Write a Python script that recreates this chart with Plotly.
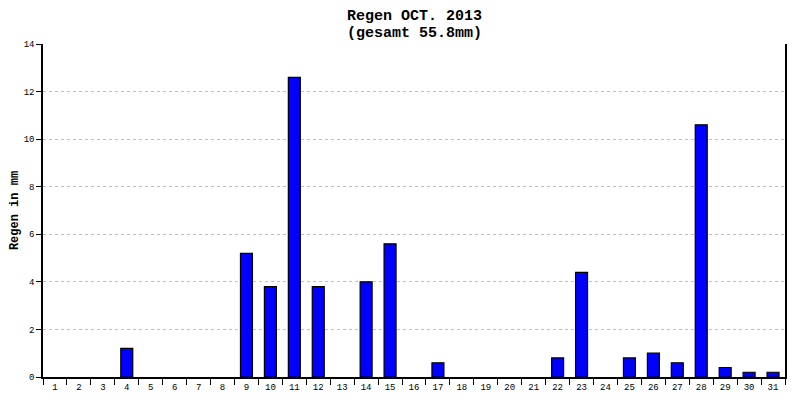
import plotly.graph_objects as go

# Regen pro Tag, Oktober 2013 (mm)
tage = [str(d) for d in range(1, 32)]
regen = [0, 0, 0, 1.2, 0, 0, 0, 0, 5.2, 3.8, 12.6, 3.8, 0, 4.0, 5.6, 0,
         0.6, 0, 0, 0, 0, 0.8, 4.4, 0, 0.8, 1.0, 0.6, 10.6, 0.4, 0.2, 0.2]
y_ticks = [0, 2, 4, 6, 8, 10, 12, 14]
titel = ["Regen OCT. 2013", "(gesamt 55.8mm)"]

mono = "Liberation Mono"

# Tage ohne Regen nicht als flache Balken zeichnen
y_bars = [v if v > 0 else None for v in regen]

fig = go.Figure()
fig.add_trace(go.Bar(
    x=tage, y=y_bars, width=0.5,
    marker=dict(color="#0000ff", line=dict(color="#000000", width=1.2)),
))

# the page puts the plot 8px in from the top left, so margins are shifted
fig.update_layout(
    width=800, height=400,
    margin=dict(l=35, r=23, t=36, b=31),
    paper_bgcolor="white", plot_bgcolor="white",
    showlegend=False,
)
for i, zeile in enumerate(titel):
    fig.add_annotation(
        text="<b>" + zeile + "</b>",
        xref="paper", yref="paper", x=0.5, y=1.0, yshift=28 - 17 * i,
        xanchor="center", yanchor="middle", showarrow=False,
        font=dict(family=mono, size=15, color="black"),
    )
fig.update_xaxes(
    type="category", showline=True, linecolor="black", linewidth=1.5,
    ticks="outside", tickson="boundaries", ticklen=6, tickcolor="black",
    tickwidth=1.2, showgrid=False, automargin=False,
    tickfont=dict(family=mono, size=9, color="black"),
)
fig.update_yaxes(
    range=[0, 14], tickvals=y_ticks, showline=True, mirror=True,
    linecolor="black", linewidth=1.5,
    ticks="outside", ticklen=5, tickcolor="black", tickwidth=1.2,
    showgrid=True, gridcolor="#c0c0c0", griddash="3px,3px", gridwidth=1,
    zeroline=False, automargin=False,
    tickfont=dict(family=mono, size=9, color="black"),
    title=dict(text="<b>Regen in mm</b>", standoff=6,
               font=dict(family=mono, size=12, color="black")),
)

fig.write_html("out.html")
